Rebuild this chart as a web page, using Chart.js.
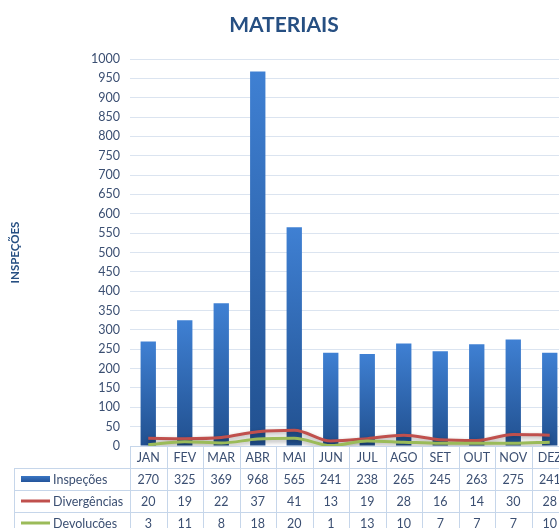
<!DOCTYPE html>
<html>
<head>
<meta charset="utf-8">
<script src="https://cdn.jsdelivr.net/npm/chart.js@4.4.1/dist/chart.umd.min.js"></script>
<style>
  html, body { margin: 0; padding: 0; background: #fff; overflow: hidden; }
  #wrap { width: 570px; height: 528px; }
</style>
</head>
<body>
<div id="wrap"><canvas id="c" width="570" height="528"></canvas></div>
<script>
const categories = ['JAN','FEV','MAR','ABR','MAI','JUN','JUL','AGO','SET','OUT','NOV','DEZ'];
const inspecoes = [270, 325, 369, 968, 565, 241, 238, 265, 245, 263, 275, 241];
const divergencias = [20, 19, 22, 37, 41, 13, 19, 28, 16, 14, 30, 28];
const devolucoes = [3, 11, 8, 18, 20, 1, 13, 10, 7, 7, 7, 10];
const seriesNames = ['Inspeções', 'Divergências', 'Devoluções'];
const titleText = 'MATERIAIS';
const yTitle = 'INSPEÇÕES';

const FONT = 'Lato, "Open Sans", sans-serif';
const TEXT = '#3b4f72';
const RED = '#c0504d';
const GREEN = '#9bbb59';
const BLUE_TOP = '#3f80d3';
const BLUE_BOT = '#21508f';

function barGradient(context) {
  const chart = context.chart;
  const ys = chart.scales && chart.scales.y;
  if (!ys || typeof context.raw !== 'number') return BLUE_TOP;
  const top = ys.getPixelForValue(context.raw);
  const bot = ys.getPixelForValue(0);
  if (!isFinite(top) || !isFinite(bot) || top === bot) return BLUE_TOP;
  const g = chart.ctx.createLinearGradient(0, top, 0, bot);
  g.addColorStop(0, BLUE_TOP);
  g.addColorStop(1, BLUE_BOT);
  return g;
}

const lineShadow = {
  id: 'lineShadow',
  beforeDatasetDraw(chart, args) {
    if (args.meta.type === 'line') {
      chart.ctx.save();
      chart.ctx.shadowColor = 'rgba(0,0,0,0.35)';
      chart.ctx.shadowBlur = 4;
      chart.ctx.shadowOffsetY = 2;
    }
  },
  afterDatasetDraw(chart, args) {
    if (args.meta.type === 'line') chart.ctx.restore();
  }
};

const dataTable = {
  id: 'dataTable',
  afterDraw(chart) {
    const { ctx, chartArea, scales } = chart;
    const x = scales.x;
    const n = categories.length;
    const colW = (chartArea.right - chartArea.left) / n;
    const top = chartArea.bottom;
    const rowH = 22;
    const tableLeft = 14;
    const right = chartArea.left + colW * n;
    const rows = [inspecoes, divergencias, devolucoes];
    ctx.save();
    ctx.strokeStyle = '#c6d6ea';
    ctx.lineWidth = 1;
    ctx.beginPath();
    ctx.moveTo(chartArea.left, Math.round(top) + 0.5);
    ctx.lineTo(right, Math.round(top) + 0.5);
    for (let r = 1; r <= 4; r++) {
      const yy = Math.round(top + r * rowH) + 0.5;
      ctx.moveTo(tableLeft, yy);
      ctx.lineTo(right, yy);
    }
    for (let i = 0; i <= n; i++) {
      const xx = Math.round(chartArea.left + i * colW) + 0.5;
      ctx.moveTo(xx, top);
      ctx.lineTo(xx, top + 4 * rowH);
    }
    ctx.moveTo(tableLeft + 0.5, top + rowH);
    ctx.lineTo(tableLeft + 0.5, top + 4 * rowH);
    ctx.stroke();

    ctx.fillStyle = TEXT;
    ctx.font = '12.5px ' + FONT;
    ctx.textAlign = 'center';
    ctx.textBaseline = 'middle';
    for (let i = 0; i < n; i++) {
      const cx = x.getPixelForValue(i);
      ctx.fillText(categories[i], cx, top + rowH / 2 + 1);
      for (let r = 0; r < rows.length; r++) {
        ctx.fillText(String(rows[r][i]), cx, top + (r + 1) * rowH + rowH / 2 + 1);
      }
    }
    ctx.textAlign = 'left';
    for (let r = 0; r < 3; r++) {
      const cy = top + (r + 1) * rowH + rowH / 2;
      if (r === 0) {
        const g = ctx.createLinearGradient(0, cy - 3, 0, cy + 3);
        g.addColorStop(0, '#3a76c4');
        g.addColorStop(1, '#24549a');
        ctx.fillStyle = g;
        ctx.fillRect(21, cy - 3, 29, 6);
      } else {
        ctx.strokeStyle = r === 1 ? RED : GREEN;
        ctx.lineWidth = 3;
        ctx.beginPath();
        ctx.moveTo(21, cy);
        ctx.lineTo(50, cy);
        ctx.stroke();
      }
      ctx.fillStyle = TEXT;
      ctx.fillText(seriesNames[r], 53, cy + 1);
    }
    ctx.restore();
  }
};

new Chart(document.getElementById('c'), {
  type: 'bar',
  data: {
    labels: categories,
    datasets: [
      {
        type: 'bar',
        label: seriesNames[0],
        data: inspecoes,
        backgroundColor: barGradient,
        barPercentage: 0.42,
        categoryPercentage: 1,
        order: 3
      },
      {
        type: 'line',
        label: seriesNames[1],
        data: divergencias,
        borderColor: RED,
        borderWidth: 3,
        pointRadius: 0,
        tension: 0.4,
        cubicInterpolationMode: 'monotone',
        fill: false,
        order: 2
      },
      {
        type: 'line',
        label: seriesNames[2],
        data: devolucoes,
        borderColor: GREEN,
        borderWidth: 3,
        pointRadius: 0,
        tension: 0.4,
        cubicInterpolationMode: 'monotone',
        fill: false,
        order: 1
      }
    ]
  },
  options: {
    responsive: false,
    animation: false,
    devicePixelRatio: 1,
    layout: { padding: { left: 0, right: 2, top: 0, bottom: 82 } },
    plugins: {
      legend: { display: false },
      tooltip: { enabled: false },
      title: {
        display: true,
        text: titleText,
        color: '#264f82',
        font: { family: FONT, size: 21, weight: 'bold', lineHeight: 1.2 },
        padding: { top: 13, bottom: 20.8 }
      }
    },
    scales: {
      x: {
        display: false,
        offset: true,
        grid: { display: false }
      },
      y: {
        min: 0,
        max: 1000,
        afterFit(scale) { scale.width = 130; },
        ticks: {
          stepSize: 50,
          color: TEXT,
          padding: 10,
          font: { family: FONT, size: 12.5 },
          callback: (v) => String(v)
        },
        grid: { color: '#dbe4f0', drawTicks: false },
        border: { display: false },
        title: {
          display: true,
          text: yTitle,
          color: '#264f82',
          font: { family: FONT, size: 11.5, weight: 'bold' },
          padding: { top: 8, bottom: 0 }
        }
      }
    }
  },
  plugins: [lineShadow, dataTable]
});
</script>
</body>
</html>
